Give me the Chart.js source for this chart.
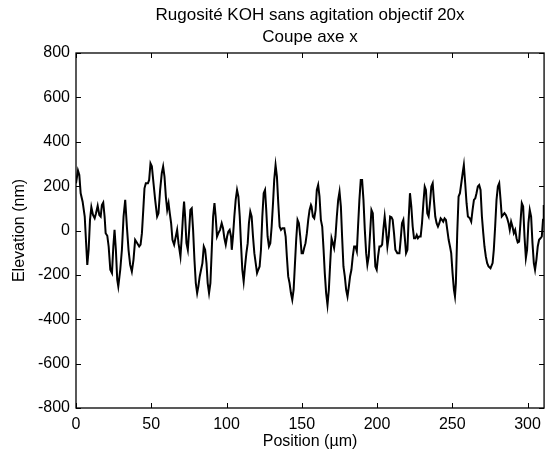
<!DOCTYPE html>
<html>
<head>
<meta charset="utf-8">
<script src="https://cdn.jsdelivr.net/npm/chart.js@4"></script>
<style>
html, body { margin: 0; padding: 0; background: #fff; }
</style>
</head>
<body>
<canvas id="myChart" width="548" height="457"></canvas>
<script>
// Profile (position in um, elevation in nm)
const positions = [
    0, 1.3, 2.2, 3.1, 4.4, 5.8, 6.6, 7.5, 8.4, 9.3, 10.2, 11.3, 12.4, 13.3, 14.4, 15.5, 16.4, 17.2, 18.1, 19.0,
    19.7, 20.8, 21.7, 22.8, 23.9, 24.8, 25.6, 26.5, 27.4, 28.1, 29.4, 30.5, 31.6, 32.7, 33.8, 34.9, 36.0, 37.1, 38.2, 39.3,
    40.7, 42.0, 42.9, 43.8, 44.7, 45.5, 46.4, 47.8, 48.6, 49.5,
    50.4, 51.5, 52.6, 53.9, 54.8, 55.9, 57.0, 57.9, 58.8, 59.7, 60.6, 61.5, 62.3, 63.2, 64.1, 65.2, 66.3, 67.2, 68.1, 69.4,
    70.3, 71.2, 71.8, 72.5, 73.4, 74.3, 75.2, 76.0, 76.9, 77.8, 78.7, 79.6, 80.5, 81.3, 82.2, 83.1, 84.0, 84.9, 85.8, 86.7,
    87.5, 88.4, 89.3, 90.2, 91.1, 92.0, 92.8, 93.7, 94.6, 95.7, 96.8, 97.7, 98.6, 99.5, 100.4, 101.2, 102.1, 103.0,
    103.5, 104.3, 105.2, 106.1, 107.0, 107.9, 108.8, 109.6, 110.5, 111.4, 112.3, 113.2, 114.1, 114.9, 115.8, 116.7, 117.6, 118.5, 119.4, 120.3,
    121.1, 122.0, 122.9, 123.8, 124.7, 125.6, 126.4, 127.3, 128.2, 129.1, 130.0, 130.9, 131.7, 132.6, 133.5, 134.4, 135.3, 136.2, 137.1, 138.4,
    139.3, 140.1, 141.0, 141.9, 142.8, 143.7, 144.6, 145.5, 146.3, 147.2, 148.1, 149.0, 149.9, 150.8, 151.6, 152.5, 153.4, 154.3, 155.2, 156.1,
    156.5, 157.4, 158.3, 159.2, 160.0, 160.9, 161.8, 162.7, 163.6, 164.5, 165.3, 166.2, 167.1, 168.0, 168.9, 169.8, 170.7, 171.5, 172.4, 173.3,
    174.2, 175.1, 176.0, 176.8, 177.7, 178.6, 179.5, 180.4, 181.3, 182.1, 183.0, 183.9, 184.8, 185.7, 186.6, 187.4, 188.3, 189.2, 190.1, 191.0,
    191.9, 192.8, 193.6, 194.5, 195.4, 196.3, 197.2, 198.1, 198.9, 199.8, 200.7, 201.6, 202.5, 203.4, 204.2, 205.1, 206.0, 206.9, 207.8, 208.7,
    209.6, 210.4, 211.3, 212.2, 213.5, 214.9, 215.7, 216.6, 217.5, 218.4, 219.3, 220.2, 221.0, 221.9, 222.8, 223.7, 224.6, 225.5, 226.4, 227.2,
    228.1, 229.0, 229.9, 230.8, 231.7, 232.5, 233.4, 234.3, 235.2, 236.1, 237.0, 237.8, 238.7, 239.6, 240.5, 241.4, 242.3, 243.2, 244.0, 244.9,
    245.8, 246.7, 247.6, 248.5, 249.3, 250.2, 251.1, 251.8, 252.4, 253.3, 254.2, 255.1, 256.0, 256.9, 257.7, 258.6, 259.5, 260.4, 261.7,
    262.6, 263.5, 264.4, 265.3, 266.1, 267.0, 267.9, 268.8, 269.7, 270.6, 271.4, 272.3, 273.2, 274.1, 275.4, 276.8, 277.6, 278.5, 279.4, 280.3,
    281.2, 282.1, 282.9, 283.8, 284.7, 285.6, 286.5, 287.4, 288.2, 289.1, 290.0, 290.9, 291.8, 292.7, 293.5, 294.4, 295.3, 296.2, 297.1, 298.0,
    298.9, 299.7, 300.6, 301.5, 302.4, 303.3, 304.2, 305.0, 305.9, 306.8, 307.7, 308.6, 309.5, 310.3, 310.8
];
const elevations = [
    213, 270, 250, 168, 130, 63, -42, -155, -87, 48, 105, 70, 55, 78, 111, 70, 63, 115, 126, 63,
    -12, -24, -72, -177, -192, -72, 3, -87, -222, -252, -177, -87, 63, 138, 18, -87, -155, -185, -132, -42,
    -57, -72, -64, -12, 93, 190, 213, 213, 228, 303,
    290, 213, 138, 63, 78, 183, 258, 288, 243, 153, 93, 123, 78, 33, -42, -64, -27, 3, -57, -117,
    -27, 78, 130, 63, -57, -87, 3, 93, 100, 3, -132, -237, -282, -252, -207, -177, -147, -72, -87, -147,
    -237, -282, -237, -87, 63, 123, 63, -27, -12, 3, 33, 10, -35, -64, -27, -5, 3, -27,
    -87, -27, 63, 138, 183, 153, 63, -57, -177, -230, -162, -102, -57, 33, 85, 63, -27, -102, -147, -192,
    -177, -162, -87, 63, 168, 183, 93, -27, -72, -57, 18, 123, 228, 295, 243, 123, 18, 3, 10, 10,
    -27, -117, -207, -237, -282, -312, -267, -147, -42, 48, 33, -27, -102, -102, -79, -57, -12, 48, 93, 115,
    108, 63, 55, 93, 183, 205, 153, 48, 18, -87, -192, -282, -335, -267, -147, -35, -57, -79, -27, 63,
    138, 175, 108, -27, -162, -207, -267, -297, -252, -207, -177, -117, -72, -72, -94, 18, 138, 228, 228, 138,
    3, -102, -154, -117, -12, 93, 78, -57, -162, -177, -117, -72, -72, -64, 3, 63, 3, -72, -27, 63,
    60, 48, -12, -87, -102, -102, -42, 33, 48, -27, -102, -87, 48, 168, 108, 18, -35, -35, -20, -35,
    -27, -27, 33, 123, 198, 183, 78, 63, 123, 198, 213, 138, 63, 33, 18, 33, 55, 48, 40, 55,
    48, 3, -42, -72, -102, -192, -267, -297, -237, -12, 153, 168, 213, 258, 295, 213, 123, 63, 55,
    40, 93, 138, 145, 168, 198, 205, 183, 63, -12, -72, -117, -147, -162, -170, -147, -87, 18, 138, 198,
    213, 138, 63, 70, 78, 70, 55, 33, 3, 40, 18, -12, 3, -35, -54, -50, 33, 123, 108, -27,
    -124, -87, 33, 93, 63, -57, -147, -177, -132, -72, -42, -35, -27, 48, 115
];
const xTicks = [0, 50, 100, 150, 200, 250, 300];
const yTicks = [-800, -600, -400, -200, 0, 200, 400, 600, 800];
const titleLines = ['Rugosité KOH sans agitation objectif 20x', 'Coupe axe x'];

const FONT = 'Arial, "Liberation Sans", sans-serif';

// MATLAB-like box with inward tick marks on all four sides
const boxTicks = {
    id: 'boxTicks',
    afterDraw: (chart) => {
        const ctx = chart.ctx;
        const a = chart.chartArea;
        const x = chart.scales.x;
        const y = chart.scales.y;
        const len = 5;
        ctx.save();
        ctx.strokeStyle = '#000';
        ctx.lineWidth = 1.3;
        ctx.strokeRect(a.left, a.top, a.right - a.left, a.bottom - a.top);
        ctx.lineWidth = 1;
        ctx.beginPath();
        xTicks.forEach(v => {
            const px = Math.round(x.getPixelForValue(v)) + 0.5;
            ctx.moveTo(px, a.bottom); ctx.lineTo(px, a.bottom - len);
            ctx.moveTo(px, a.top); ctx.lineTo(px, a.top + len);
        });
        yTicks.forEach(v => {
            const py = Math.round(y.getPixelForValue(v)) + 0.5;
            ctx.moveTo(a.left, py); ctx.lineTo(a.left + len, py);
            ctx.moveTo(a.right, py); ctx.lineTo(a.right - len, py);
        });
        ctx.stroke();
        ctx.restore();
    }
};

const ctx = document.getElementById('myChart').getContext('2d');
const myChart = new Chart(ctx, {
    type: 'line',
    data: {
        datasets: [{
            data: positions.map((p, i) => ({ x: p, y: elevations[i] })),
            borderColor: '#000',
            borderWidth: 2,
            pointRadius: 0,
            tension: 0,
            fill: false
        }]
    },
    plugins: [boxTicks],
    options: {
        responsive: false,
        animation: false,
        layout: { padding: { left: 0, right: 3, top: 0, bottom: 0 } },
        plugins: {
            legend: { display: false },
            tooltip: { enabled: false },
            title: {
                display: true,
                fullSize: false,
                text: titleLines,
                color: '#000',
                font: { family: FONT, size: 17, weight: 'normal', lineHeight: 1.3 },
                padding: { top: 4, bottom: 4.8 }
            }
        },
        scales: {
            x: {
                type: 'linear',
                min: 0,
                max: 311,
                afterBuildTicks: (s) => { s.ticks = xTicks.map(v => ({ value: v })); },
                afterFit: (s) => { s.height = 49; },
                grid: { display: false, drawTicks: false },
                border: { display: false },
                ticks: { color: '#000', font: { family: FONT, size: 16 }, padding: 7, maxRotation: 0, autoSkip: false },
                title: { display: true, text: 'Position (µm)', color: '#000', font: { family: FONT, size: 16 }, padding: { top: 0, bottom: 6 } }
            },
            y: {
                min: -800,
                max: 800,
                afterBuildTicks: (s) => { s.ticks = yTicks.map(v => ({ value: v })); },
                afterFit: (s) => { s.width = 76; },
                grid: { display: false, drawTicks: false },
                border: { display: false },
                ticks: { color: '#000', font: { family: FONT, size: 16 }, padding: 6 },
                title: { display: true, text: 'Elevation (nm)', color: '#000', font: { family: FONT, size: 16 }, padding: { top: 10, bottom: 0 } }
            }
        }
    }
});
</script>
</body>
</html>
